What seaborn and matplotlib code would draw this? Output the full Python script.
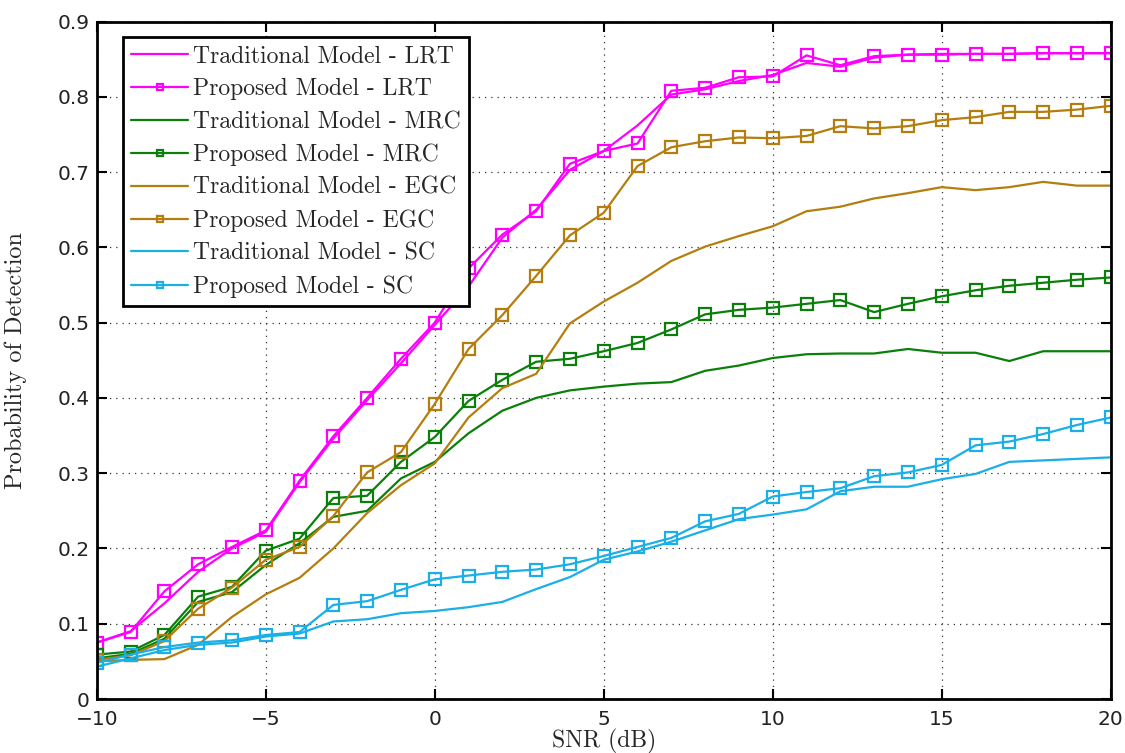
import numpy as np
import pandas as pd
import matplotlib
matplotlib.use("Agg")
import matplotlib.pyplot as plt
import seaborn as sns

snr = list(range(-10, 21))

trad_lrt = [0.075, 0.090, 0.127, 0.169, 0.200, 0.222, 0.288, 0.346, 0.397, 0.446, 0.497,
            0.548, 0.613, 0.650, 0.703, 0.728, 0.762, 0.803, 0.810, 0.821, 0.829,
            0.845, 0.840, 0.852, 0.856, 0.857, 0.857, 0.857, 0.858, 0.858, 0.858]
prop_lrt = [0.075, 0.089, 0.143, 0.179, 0.202, 0.224, 0.290, 0.349, 0.400, 0.452, 0.500,
            0.572, 0.617, 0.648, 0.711, 0.728, 0.738, 0.808, 0.812, 0.826, 0.827,
            0.855, 0.842, 0.854, 0.856, 0.856, 0.857, 0.857, 0.858, 0.858, 0.858]
trad_mrc = [0.054, 0.060, 0.080, 0.129, 0.142, 0.178, 0.207, 0.242, 0.250, 0.293, 0.315,
            0.353, 0.383, 0.400, 0.410, 0.415, 0.419, 0.421, 0.436, 0.443, 0.453,
            0.458, 0.459, 0.459, 0.465, 0.460, 0.460, 0.449, 0.462, 0.462, 0.462]
prop_mrc = [0.059, 0.063, 0.085, 0.136, 0.149, 0.197, 0.213, 0.267, 0.270, 0.315, 0.348,
            0.396, 0.424, 0.448, 0.452, 0.462, 0.473, 0.491, 0.511, 0.517, 0.520,
            0.525, 0.530, 0.514, 0.525, 0.535, 0.543, 0.549, 0.553, 0.557, 0.560]
trad_egc = [0.050, 0.052, 0.053, 0.072, 0.109, 0.139, 0.161, 0.200, 0.247, 0.284, 0.313,
            0.374, 0.413, 0.432, 0.499, 0.528, 0.553, 0.582, 0.601, 0.615, 0.628,
            0.648, 0.654, 0.665, 0.672, 0.680, 0.676, 0.680, 0.687, 0.682, 0.682]
prop_egc = [0.052, 0.058, 0.077, 0.120, 0.148, 0.185, 0.202, 0.243, 0.301, 0.328, 0.392,
            0.465, 0.510, 0.562, 0.616, 0.646, 0.708, 0.733, 0.741, 0.746, 0.745,
            0.748, 0.761, 0.758, 0.761, 0.769, 0.773, 0.780, 0.780, 0.783, 0.788]
trad_sc = [0.043, 0.054, 0.065, 0.072, 0.075, 0.083, 0.087, 0.103, 0.106, 0.114, 0.117,
           0.122, 0.129, 0.146, 0.162, 0.185, 0.196, 0.209, 0.224, 0.239, 0.245,
           0.252, 0.276, 0.282, 0.282, 0.292, 0.299, 0.315, 0.317, 0.319, 0.321]
prop_sc = [0.048, 0.059, 0.069, 0.075, 0.078, 0.085, 0.089, 0.125, 0.130, 0.145, 0.159,
           0.164, 0.169, 0.172, 0.179, 0.190, 0.202, 0.214, 0.236, 0.246, 0.269,
           0.275, 0.280, 0.296, 0.301, 0.311, 0.337, 0.342, 0.352, 0.364, 0.374]

series_names = ["Traditional Model - LRT", "Proposed Model - LRT",
                "Traditional Model - MRC", "Proposed Model - MRC",
                "Traditional Model - EGC", "Proposed Model - EGC",
                "Traditional Model - SC", "Proposed Model - SC"]
series_values = [trad_lrt, prop_lrt, trad_mrc, prop_mrc, trad_egc, prop_egc, trad_sc, prop_sc]
series_colors = ["#FF00FF", "#FF00FF", "#0A800A", "#0A800A",
                 "#B47E0E", "#B47E0E", "#1AAFE6", "#1AAFE6"]
series_markers = ["", "s", "", "s", "", "s", "", "s"]

x_ticks = [-10, -5, 0, 5, 10, 15, 20]
y_ticks = [0, 0.1, 0.2, 0.3, 0.4, 0.5, 0.6, 0.7, 0.8, 0.9]
y_tick_labels = ["0", "0.1", "0.2", "0.3", "0.4", "0.5", "0.6", "0.7", "0.8", "0.9"]
x_tick_labels = ["\u221210", "\u22125", "0", "5", "10", "15", "20"]

df = pd.DataFrame({
    "SNR": snr * len(series_names),
    "Pd": [v for vals in series_values for v in vals],
    "Series": [n for n in series_names for _ in snr],
})

sns.set_theme(style="white")
plt.rcParams["font.family"] = ["DejaVu Sans"]
plt.rcParams["axes.unicode_minus"] = True

fig = plt.figure(figsize=(11.25, 7.53), dpi=100)
ax = fig.add_axes([0.086, 0.0717, 0.9013, 0.8997])

palette = dict(zip(series_names, series_colors))
for name, mk in zip(series_names, series_markers):
    sub = df[df["Series"] == name]
    sns.lineplot(data=sub, x="SNR", y="Pd", ax=ax, color=palette[name],
                 label=name, linewidth=1.6,
                 marker=mk if mk else None, markersize=8,
                 markerfacecolor="none", markeredgecolor=palette[name],
                 markeredgewidth=1.6, estimator=None, errorbar=None)

ax.set_xlim(-10, 20)
ax.set_ylim(0, 0.9)
ax.set_xticks(x_ticks)
ax.set_xticklabels(x_tick_labels, fontsize=14.5, color="#222222")
ax.set_yticks(y_ticks)
ax.set_yticklabels(y_tick_labels, fontsize=14.5, color="#222222")
ax.tick_params(direction="in", length=7, width=1.5, top=True, right=True,
               bottom=True, left=True, pad=5, color="black")
ax.tick_params(axis="x", pad=8)
ax.grid(True, linestyle=(0, (1, 4)), color="#333333", linewidth=0.9)
for sp in ax.spines.values():
    sp.set_visible(True)
    sp.set_color("black")
    sp.set_linewidth(2.0)

ax.set_xlabel("SNR (dB)", fontsize=17, family=["cmr10", "DejaVu Serif"], labelpad=0)
ax.set_ylabel("Probability of Detection", fontsize=17.5, family=["cmr10", "DejaVu Serif"], labelpad=22)

leg = ax.legend(loc="upper left", bbox_to_anchor=(0.026, 0.977), frameon=True,
                fancybox=False, shadow=False, edgecolor="black",
                prop={"family": ["cmr10", "DejaVu Serif"], "size": 17},
                handlelength=2.4, markerscale=0.6, labelspacing=0.45,
                borderpad=0.35, handletextpad=0.2, borderaxespad=0)
leg.get_frame().set_linewidth(2.0)
leg.get_frame().set_facecolor("white")
leg.get_frame().set_alpha(1)

fig.savefig("out.png", dpi=100)
